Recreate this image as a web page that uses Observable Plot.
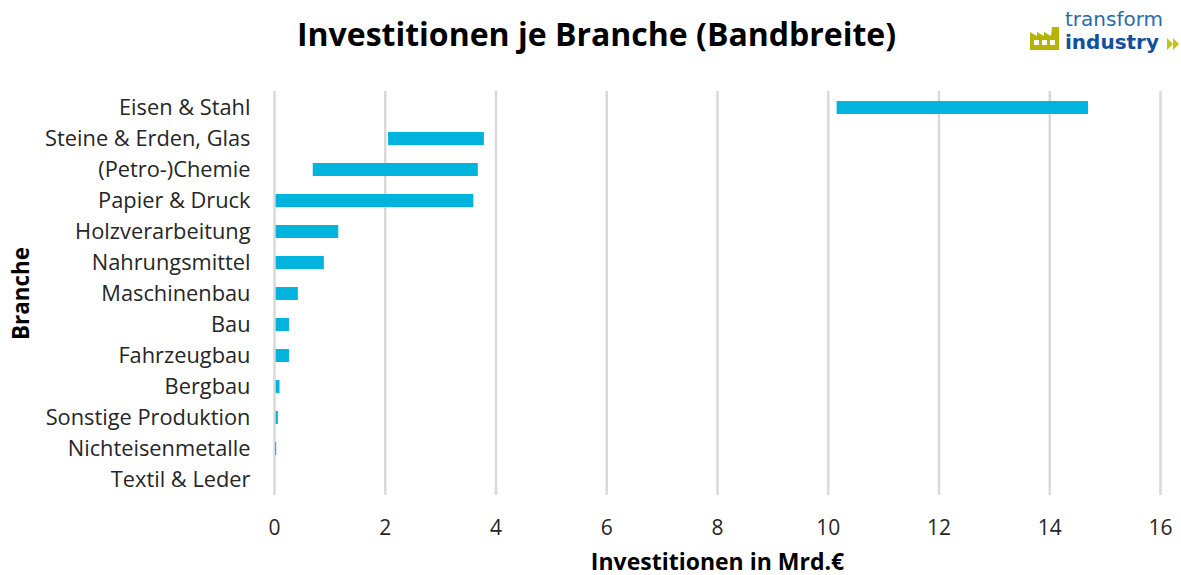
<!DOCTYPE html>
<html><head><meta charset="utf-8">
<script src="https://cdn.jsdelivr.net/npm/d3@7"></script>
<script src="https://cdn.jsdelivr.net/npm/@observablehq/plot@0.6"></script>
<style>
html,body{margin:0;padding:0;background:#fff;width:1181px;height:575px;overflow:hidden;font-family:"Open Sans",sans-serif}
#head{position:relative;height:91px;width:1181px}
#title{position:absolute;left:0;top:12px;width:1193px;text-align:center;font-size:32px;font-weight:700;color:#000;line-height:44px;margin:0}
#logo{position:absolute;left:1028px;top:6px}
svg{display:block}
</style></head><body>
<div id="head"><h1 id="title">Investitionen je Branche (Bandbreite)</h1>
<svg id="logo" width="153" height="50" viewBox="0 0 153 50">
<path d="M2 44V26l7 4v-4l7 4v-4l7 4 1-9h7v23z" fill="#b5b400"/>
<path d="M6 34h5v5h-5zM14 34h5v5h-5zM22 34h5v5h-5z" fill="#fff"/>
<text x="37" y="20" font-family="'DejaVu Sans'" font-size="20" fill="#2c6aa8">transform</text>
<text x="37" y="43" font-family="'DejaVu Sans'" font-weight="700" font-size="20" fill="#12509c">industry</text>
<path d="M139 32l6 6-6 6zM145 32l6 6-6 6z" fill="#c3c21a"/>
</svg></div>
<div id="chart"></div>
<script>
const branches=["Eisen & Stahl","Steine & Erden, Glas","(Petro-)Chemie","Papier & Druck","Holzverarbeitung","Nahrungsmittel","Maschinenbau","Bau","Fahrzeugbau","Bergbau","Sonstige Produktion","Nichteisenmetalle","Textil & Leder"];
const lowValues=[10.16,2.06,0.7,0.03,0.03,0.03,0.03,0.03,0.03,0.03,0.03,0.02,0.01];
const highValues=[14.7,3.79,3.68,3.6,1.16,0.9,0.43,0.27,0.27,0.1,0.07,0.04,0.01];
const xTicks=[0,2,4,6,8,10,12,14,16];
const rows=branches.map((b,i)=>({b,lo:lowValues[i],hi:highValues[i]}));
const plot=Plot.plot({
  width:1181,height:484,
  marginLeft:274,marginRight:21,marginTop:0,marginBottom:80,
  style:{fontFamily:'"Open Sans",sans-serif',color:"#262626",background:"#fff"},
  x:{domain:[0,16],ticks:xTicks},
  y:{domain:branches,padding:0},
  marks:[
    Plot.gridX(xTicks,{stroke:"#d9d9d9",strokeWidth:2.5,strokeOpacity:1}),
    Plot.barX(rows,{x1:"lo",x2:"hi",y:"b",fill:"#00b4dd",insetTop:9,insetBottom:9}),
    Plot.axisY({tickSize:0,tickPadding:24,label:null,fontSize:21.8}),
    Plot.axisX(xTicks,{tickSize:0,tickPadding:25,label:null,fontSize:21}),
    Plot.text(["Investitionen in Mrd.€"],{frameAnchor:"bottom",dy:74,fontWeight:700,fontSize:23,fill:"#000"}),
    Plot.text(["Branche"],{frameAnchor:"left",textAnchor:"middle",dx:-253,rotate:-90,fontWeight:700,fontSize:22.4,fill:"#000"})
  ]
});
document.getElementById("chart").append(plot);
</script></body></html>
